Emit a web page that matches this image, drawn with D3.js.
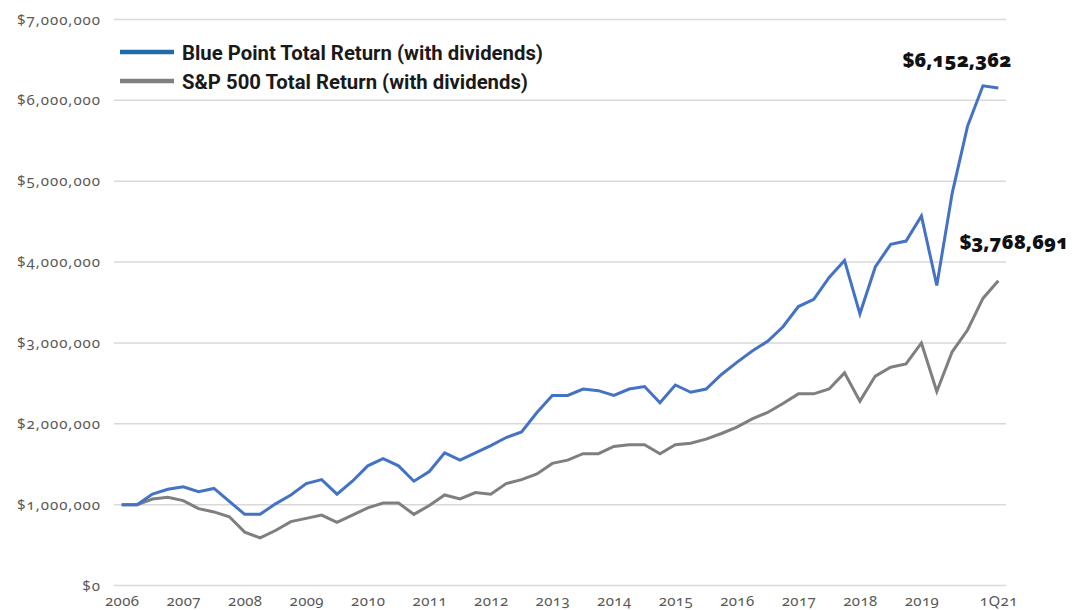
<!DOCTYPE html>
<html>
<head>
<meta charset="utf-8">
<script src="https://cdn.jsdelivr.net/npm/d3@7"></script>
<style>
  html, body { margin: 0; padding: 0; background: #fff; }
  svg { display: block; }
  .axis text { font-family: "Noto Sans", sans-serif; font-variant-numeric: oldstyle-nums; fill: #595959; font-size: 15px; }
  .yaxis text { letter-spacing: 1px; }
  .xaxis text { letter-spacing: 0.4px; }
  .legend text { font-family: "Liberation Sans Narrow", "Roboto", sans-serif; font-weight: bold; font-size: 21px; fill: #1a1a1a; }
  .endlabel { font-family: "Noto Sans", sans-serif; font-variant-numeric: oldstyle-nums; font-weight: 900; font-size: 20px; fill: #111; }
</style>
</head>
<body>
<svg id="chart" width="1078" height="610"></svg>
<script>
// Quarterly points, 2006 through 1Q21 (values in US dollars)
const bluePoint = [
  1000000, 1000000, 1130000, 1190000, 1220000, 1160000, 1200000, 1040000,
  880000, 880000, 1010000, 1120000, 1260000, 1310000, 1130000, 1290000,
  1480000, 1570000, 1480000, 1290000, 1410000, 1640000, 1550000, 1640000,
  1730000, 1830000, 1900000, 2140000, 2350000, 2350000, 2430000, 2410000,
  2350000, 2430000, 2460000, 2260000, 2480000, 2390000, 2430000, 2610000,
  2760000, 2900000, 3020000, 3200000, 3450000, 3540000, 3810000, 4020000,
  3360000, 3940000, 4220000, 4260000, 4570000, 3710000, 4850000, 5680000,
  6180000, 6152362
];
const sp500 = [
  1000000, 1000000, 1070000, 1090000, 1050000, 950000, 910000, 850000,
  660000, 590000, 680000, 790000, 830000, 870000, 780000, 870000,
  960000, 1020000, 1020000, 880000, 990000, 1120000, 1070000, 1150000,
  1130000, 1260000, 1310000, 1380000, 1510000, 1550000, 1630000, 1630000,
  1720000, 1740000, 1740000, 1630000, 1740000, 1760000, 1810000, 1880000,
  1960000, 2060000, 2140000, 2250000, 2370000, 2370000, 2430000, 2630000,
  2280000, 2590000, 2700000, 2740000, 3000000, 2400000, 2890000, 3160000,
  3550000, 3768691
];
const tickIndex = [0, 4, 8, 12, 16, 20, 24, 28, 32, 36, 40, 44, 48, 52, 57];
const tickLabels = ["2006", "2007", "2008", "2009", "2010", "2011", "2012", "2013",
  "2014", "2015", "2016", "2017", "2018", "2019", "1Q21"];
const yTicks = [0, 1000000, 2000000, 3000000, 4000000, 5000000, 6000000, 7000000];
const seriesNames = ["Blue Point Total Return (with dividends)", "S&P 500 Total Return (with dividends)"];
const endLabels = ["$6,152,362", "$3,768,691"];

(function () {
const svg = d3.select("#chart");
const mLeft = 114, mRight = 1006, mTop = 19.5, mBottom = 585.5;

const x = d3.scalePoint().domain(d3.range(bluePoint.length)).range([mLeft, mRight]).padding(0.5);
const y = d3.scaleLinear().domain([0, 7000000]).range([mBottom, mTop]);

// gridlines
svg.append("g").selectAll("line").data(yTicks).join("line")
  .attr("x1", mLeft).attr("x2", mRight)
  .attr("y1", d => y(d)).attr("y2", d => y(d))
  .attr("stroke", "#d9d9d9").attr("stroke-width", 1.5);

// y axis labels
const fmt = d3.format(",");
const yAxis = svg.append("g").attr("class", "axis yaxis")
  .attr("transform", `translate(${mLeft - 13},0)`)
  .call(d3.axisLeft(y).tickValues(yTicks).tickSize(0).tickPadding(0).tickFormat(d => "$" + fmt(d)));
yAxis.select(".domain").remove();
yAxis.selectAll("text").attr("dy", "0.3em");

// x axis labels
const xAxis = svg.append("g").attr("class", "axis xaxis")
  .attr("transform", `translate(0,${mBottom})`)
  .call(d3.axisBottom(x).tickValues(tickIndex).tickSize(0).tickPadding(10)
    .tickFormat(d => tickLabels[tickIndex.indexOf(d)]));
xAxis.select(".domain").remove();

// lines
const line = d3.line().x((d, i) => x(i)).y(d => y(d));
svg.append("path").datum(sp500).attr("d", line)
  .attr("fill", "none").attr("stroke", "#7f7f7f").attr("stroke-width", 3);
svg.append("path").datum(bluePoint).attr("d", line)
  .attr("fill", "none").attr("stroke", "#4472c4").attr("stroke-width", 3);

// legend
const legendColors = ["#1f6ba8", "#808080"];
const legendWidths = [361, 346];
const lg = svg.append("g").attr("class", "legend");
seriesNames.forEach((name, i) => {
  const yy = 52 + i * 29;
  lg.append("line").attr("x1", 120).attr("x2", 174).attr("y1", yy).attr("y2", yy)
    .attr("stroke", legendColors[i]).attr("stroke-width", 4.5);
  lg.append("text").attr("x", 182).attr("y", yy).attr("dy", "0.36em").text(name)
    .attr("textLength", legendWidths[i]).attr("lengthAdjust", "spacingAndGlyphs");
});

// end labels
svg.append("text").attr("class", "endlabel").attr("x", 957).attr("y", 67)
  .attr("text-anchor", "middle").text(endLabels[0]);
svg.append("text").attr("class", "endlabel").attr("x", 1014).attr("y", 249)
  .attr("text-anchor", "middle").text(endLabels[1]);
})();
</script>
</body>
</html>
